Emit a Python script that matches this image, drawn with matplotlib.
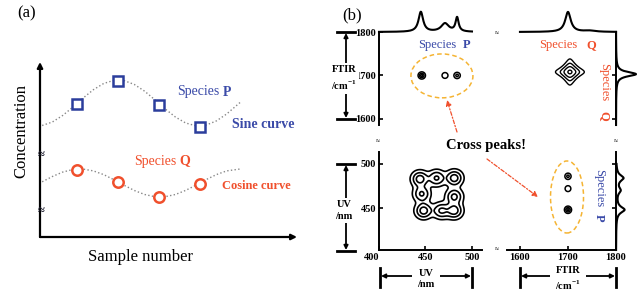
import numpy as np
import matplotlib
matplotlib.use('Agg')
import matplotlib.pyplot as plt
from matplotlib.patches import Ellipse

plt.rcParams['font.family'] = 'Liberation Serif'
plt.rcParams['mathtext.fontset'] = 'custom'
plt.rcParams['mathtext.rm'] = 'Liberation Serif:bold'
plt.rcParams['mathtext.bf'] = 'Liberation Serif:bold'

# ---- panel (a) data ----
samples = [1, 2, 3, 4]
conc_p = [13.3, 15.6, 13.2, 11.0]
conc_q = [6.7, 5.5, 4.0, 5.3]
curve_s = [0.15, 0.4, 0.65, 0.9, 1.15, 1.4, 1.65, 1.9, 2.15, 2.4,
           2.65, 2.9, 3.15, 3.4, 3.65, 3.9, 4.15, 4.4, 4.65, 4.98]
sine_p = [11.15, 11.50, 12.15, 12.99, 13.90, 14.73, 15.35, 15.67, 15.64, 15.25,
          14.58, 13.72, 12.81, 12.00, 11.40, 11.12, 11.19, 11.61, 12.30, 13.46]
cosine_q = [5.52, 6.05, 6.49, 6.75, 6.79, 6.61, 6.24, 5.73, 5.17, 4.65,
            4.25, 4.03, 4.03, 4.25, 4.66, 5.18, 5.74, 6.24, 6.61, 6.80]

# ---- panel (b) data: band positions / heights / widths ----
uv_top_pos = [445, 471, 484]
uv_top_amp = [1.0, 0.42, 0.7]
uv_top_wid = [3.0, 5.0, 2.0]
ftir_top_pos = [1700, 1745]
ftir_top_amp = [1.0, 0.06]
ftir_top_wid = [7.0, 15.0]
ftir_side_pos = [1703]
ftir_side_amp = [1.0]
ftir_side_wid = [6.0]
uv_side_pos = [484, 470, 448]
uv_side_amp = [0.36, 0.2, 0.42]
uv_side_wid = [4.0, 4.0, 4.0]

# UV/UV auto-peak cluster (peak centres on both UV axes)
auto_uv_x = [444, 462, 481, 481, 481, 467, 448, 446]
auto_uv_y = [483, 484, 484, 463, 447, 447, 447, 466]
auto_uv_amp = [1.0, 0.85, 1.0, 0.9, 1.0, 0.85, 1.0, 0.85]
auto_ftir_pos = (1704, 1708)
auto_ftir_wid = 10.0
cross_uv_pos = [446, 471, 484]
cross_uv_amp = [1.0, 0.6, 0.7]
cross_ftir_pos = 1700
cross2_uv_pos = [486, 472, 448]
cross2_uv_amp = [0.7, 0.6, 1.0]

blue = '#3a4aa8'
red = '#f0502d'
orange = '#f5b433'

W, H = 639, 296
fig = plt.figure(figsize=(W / 100, H / 100), dpi=100)


def box(x0, y0, x1, y1):
    return [x0 / W, 1 - y1 / H, (x1 - x0) / W, (y1 - y0) / H]


def gauss(x, c, a, s):
    return a * np.exp(-0.5 * ((x - c) / s) ** 2)


def lorentz(x, c, a, w):
    return a * w ** 2 / ((x - c) ** 2 + w ** 2)


def spectrum(x, pos, amp, wid, shape=lorentz):
    return sum(shape(x, c, a, w) for c, a, w in zip(pos, amp, wid))


# ---------------- panel (a) ----------------
ax = fig.add_axes(box(40, 62, 297, 237))
ax.set_xlim(0.0976, 6.366)
ax.set_ylim(0, 17.5)
ax.axis('off')
ax.plot(curve_s, sine_p, ':', color='#888888', lw=1)
ax.plot(curve_s, cosine_q, ':', color='#888888', lw=1)
ax.plot(samples, conc_p, 's', ms=6.5, mfc='white', mec='#2b3d9c', mew=1.8)
ax.plot(samples, conc_q, 'o', ms=7.5, mfc='white', mec=red, mew=1.8)
arr = dict(arrowstyle='-|>', color='k', lw=1.6, mutation_scale=8, shrinkA=0, shrinkB=0)
ax.annotate('', xy=(0, 1), xytext=(0, 0), xycoords='axes fraction', arrowprops=arr)
ax.annotate('', xy=(1, 0), xytext=(0, 0), xycoords='axes fraction', arrowprops=arr)

# ---------------- panel (b) ----------------
ax_tl = fig.add_axes(box(379, 32, 482, 125))
ax_tr = fig.add_axes(box(507, 32, 616, 125))
ax_bl = fig.add_axes(box(379, 152, 482, 250))
ax_br = fig.add_axes(box(507, 152, 616, 250))
uv_lim = (400, 510.8)
ftir_xlim = (1573, 1800)
ftir_ylim = (1586, 1800)
uvy_lim = (402.3, 513.6)
for a, xl, yl in [(ax_tl, uv_lim, ftir_ylim), (ax_tr, ftir_xlim, ftir_ylim),
                  (ax_bl, uv_lim, uvy_lim), (ax_br, ftir_xlim, uvy_lim)]:
    a.set_xlim(*xl)
    a.set_ylim(*yl)
    a.patch.set_alpha(0)
    for s in a.spines.values():
        s.set_visible(False)
        s.set_linewidth(1.4)
    a.tick_params(direction='in', length=3, width=1.2, labelsize=7.5, pad=2)

ax_tl.spines['left'].set_visible(True)
ax_tl.set_xticks([])
ax_tl.set_yticks([1600, 1700, 1800], labels=['1600', '1700', '1800'], fontweight='bold')

ax_tr.spines['right'].set_visible(True)
ax_tr.set_xticks([])
ax_tr.yaxis.tick_right()
ax_tr.set_yticks([1600, 1700])
ax_tr.tick_params(labelright=False)

ax_bl.spines['left'].set_visible(True)
ax_bl.spines['bottom'].set_visible(True)
ax_bl.set_xticks([400, 450, 500], labels=['400', '450', '500'], fontweight='bold')
ax_bl.get_xticklabels()[0].set_horizontalalignment('right')
ax_bl.set_yticks([450, 500], labels=['450', '500'], fontweight='bold')

ax_br.spines['right'].set_visible(True)
ax_br.spines['bottom'].set_visible(True)
ax_br.set_xticks([1600, 1700, 1800], labels=['1600', '1700', '1800'], fontweight='bold')
ax_br.yaxis.tick_right()
ax_br.set_yticks([450, 500])
ax_br.tick_params(labelright=False)

# contour maps
ux = np.linspace(*uv_lim, 400)
uy = np.linspace(*uvy_lim, 400)
fx = np.linspace(*ftir_xlim, 400)
fy = np.linspace(*ftir_ylim, 400)

X, Y = np.meshgrid(ux, uy)
Z = sum(gauss(X, cx, a, 5.5) * gauss(Y, cy, 1, 5.5)
        for cx, cy, a in zip(auto_uv_x, auto_uv_y, auto_uv_amp))
ax_bl.contour(X, Y, Z / Z.max(), levels=[0.15, 0.42, 0.75],
              colors='k', linewidths=1.2)

X, Y = np.meshgrid(ux, fy)
Z = spectrum(X, cross_uv_pos, cross_uv_amp, [2.4] * 3, gauss) * gauss(Y, cross_ftir_pos, 1, 5.0)
ax_tl.contour(X, Y, Z, levels=[0.25, 0.6, 0.9], colors='k', linewidths=1.1)

X, Y = np.meshgrid(fx, fy)
Z = lorentz(X, auto_ftir_pos[0], 1, auto_ftir_wid) * lorentz(Y, auto_ftir_pos[1], 1, auto_ftir_wid)
ax_tr.contour(X, Y, Z, levels=[0.1, 0.2, 0.4, 0.85], colors='k', linewidths=1.0)

X, Y = np.meshgrid(fx, uy)
Z = gauss(X, cross_ftir_pos, 1, 4.5) * spectrum(Y, cross2_uv_pos, cross2_uv_amp, [2.5] * 3, gauss)
ax_br.contour(X, Y, Z, levels=[0.25, 0.6, 0.9], colors='k', linewidths=1.1)

ax_tl.add_patch(Ellipse((467.7, 1699), 66.7, 101, fill=False, ec=orange,
                        lw=1.1, ls=(0, (3, 2)), clip_on=False))
ax_br.add_patch(Ellipse((1698, 462.5), 68.7, 81.8, fill=False, ec=orange,
                        lw=1.1, ls=(0, (3, 2)), clip_on=False))

# 1D spectra on the margins
sp = fig.add_axes(box(379, 8, 482, 32))
sp.set_xlim(*uv_lim)
sp.set_ylim(0, 1.2)
sp.axis('off')
xs = np.linspace(400, 500, 400)
sp.plot(xs, spectrum(xs, uv_top_pos, uv_top_amp, uv_top_wid), 'k', lw=1.5, clip_on=False)

sp = fig.add_axes(box(507, 8, 616, 32))
sp.set_xlim(*ftir_xlim)
sp.set_ylim(0, 1.2)
sp.axis('off')
xs = np.linspace(1600, 1800, 400)
sp.plot(xs, spectrum(xs, ftir_top_pos, ftir_top_amp, ftir_top_wid), 'k', lw=1.5, clip_on=False)

sp = fig.add_axes(box(616, 32, 639, 125))
sp.set_xlim(0, 1.15)
sp.set_ylim(*ftir_ylim)
sp.axis('off')
ys = np.linspace(*ftir_ylim, 400)
sp.plot(spectrum(ys, ftir_side_pos, ftir_side_amp, ftir_side_wid), ys, 'k', lw=1.5, clip_on=False)

sp = fig.add_axes(box(616, 152, 639, 250))
sp.set_xlim(0, 1.15)
sp.set_ylim(*uvy_lim)
sp.axis('off')
ys = np.linspace(uvy_lim[0], 500, 400)
sp.plot(spectrum(ys, uv_side_pos, uv_side_amp, uv_side_wid), ys, 'k', lw=1.5, clip_on=False)

# ---------------- overlay for labels ----------------
ov = fig.add_axes([0, 0, 1, 1])
ov.set_xlim(0, W)
ov.set_ylim(H, 0)
ov.axis('off')
ov.patch.set_alpha(0)

ov.text(27, 13, '(a)', fontsize=12, ha='center', va='center')
ov.text(21, 131, 'Concentration', fontsize=12, rotation=90, ha='center', va='center')
ov.text(141, 257, 'Sample number', fontsize=12, ha='center', va='center')
ov.text(219, 92, 'Species', fontsize=10, color=blue, ha='right', va='center')
ov.text(223, 92, 'P', fontsize=10, color=blue, fontweight='bold', ha='left', va='center')
ov.text(232, 125, 'Sine curve', fontsize=10, color=blue, fontweight='bold', ha='left', va='center')
ov.text(176, 161, 'Species', fontsize=10, color=red, ha='right', va='center')
ov.text(179, 161, 'Q', fontsize=10, color=red, fontweight='bold', ha='left', va='center')
ov.text(222, 186, 'Cosine curve', fontsize=9, color=red, fontweight='bold', ha='left', va='center')
for yb in (155, 211):
    ov.text(41, yb, '≈', fontsize=9, color='#223', fontweight='bold', ha='center', va='center')

ov.text(352, 15, '(b)', fontsize=12, ha='center', va='center')
ov.text(456, 45, 'Species', fontsize=9, color=blue, ha='right', va='center')
ov.text(463, 45, 'P', fontsize=9, color=blue, fontweight='bold', ha='left', va='center')
ov.text(577, 45, 'Species', fontsize=9, color=red, ha='right', va='center')
ov.text(586, 45, 'Q', fontsize=9, color=red, fontweight='bold', ha='left', va='center')
ov.text(604, 63, 'Species', fontsize=9, color=red, rotation=-90, ha='center', va='top')
ov.text(604, 111, 'Q', fontsize=9, color=red, fontweight='bold', rotation=-90, ha='center', va='top')
ov.text(599, 169, 'Species', fontsize=9, color=blue, rotation=-90, ha='center', va='top')
ov.text(599, 214, 'P', fontsize=9, color=blue, fontweight='bold', rotation=-90, ha='center', va='top')
ov.text(486, 146, 'Cross peaks!', fontsize=10.5, fontweight='bold', ha='center', va='center')

for xb, yb in [(378, 142), (616, 142), (497, 33), (497, 250)]:
    ov.text(xb, yb, '≈', fontsize=5, ha='center', va='center')

red_arr = dict(arrowstyle='-|>', color=red, lw=0.9, ls=(0, (3, 1.5, 1, 1.5)),
               mutation_scale=8, shrinkA=0, shrinkB=0)
ov.annotate('', xy=(447, 100), xytext=(457, 132), arrowprops=red_arr)
ov.annotate('', xy=(538, 197), xytext=(487, 159), arrowprops=red_arr)

dbl = dict(arrowstyle='<|-|>', color='k', lw=1.3, mutation_scale=6, shrinkA=0, shrinkB=0)
lbl_box = dict(fc='white', ec='none', pad=1.5)
for y0, y1, label in [(32, 119, 'FTIR\n/cm$^{-1}$'), (164, 251, 'UV\n/nm')]:
    ov.plot([337, 355], [y0, y0], 'k', lw=2)
    ov.plot([337, 355], [y1, y1], 'k', lw=2)
    ov.annotate('', xy=(346, y0 + 1), xytext=(346, y1 - 1), arrowprops=dbl)
    ov.text(344, (y0 + y1) / 2 + 3, label, fontsize=7.5, fontweight='bold',
            ha='center', va='center', linespacing=1.5, bbox=lbl_box)
for x0, x1, label in [(380, 472, 'UV\n/nm'), (520, 616, 'FTIR\n/cm$^{-1}$')]:
    ov.plot([x0, x0], [268, 287], 'k', lw=2)
    ov.plot([x1, x1], [268, 287], 'k', lw=2)
    ov.annotate('', xy=(x0 + 1, 276), xytext=(x1 - 1, 276), arrowprops=dbl)
    ov.text((x0 + x1) / 2, 279, label, fontsize=7.5, fontweight='bold',
            ha='center', va='center', linespacing=1.4,
            bbox=dict(fc='white', ec='none', pad=4))

fig.savefig('out.png', dpi=100)
